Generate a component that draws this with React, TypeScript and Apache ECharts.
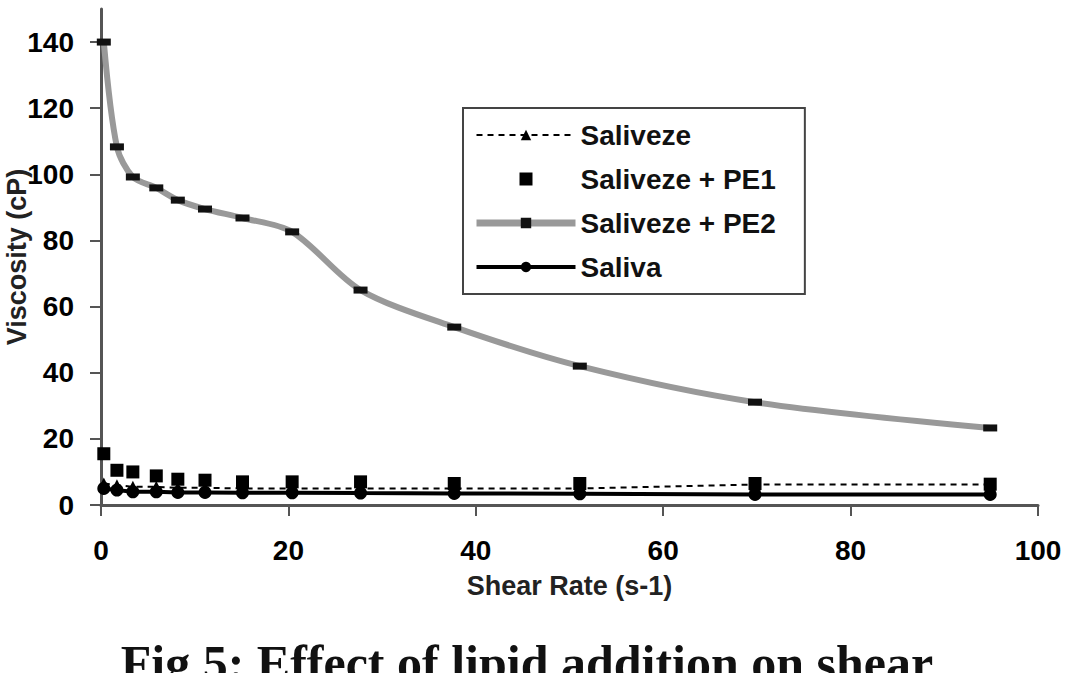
import React, { useEffect, useRef } from "react";
import * as echarts from "echarts";

const shearRate = [0.3, 1.7, 3.4, 5.9, 8.2, 11.1, 15.1, 20.4, 27.7, 37.7, 51.1, 69.8, 94.9];
const saliveze = [6.5, 6, 5.5, 5.5, 5.2, 5.2, 5, 5, 5, 5, 5, 6.2, 6.2];
const salivezePE1 = [15.5, 10.5, 10, 8.8, 7.8, 7.5, 7, 7, 7, 6.5, 6.5, 6.5, 6.3];
const salivezePE2 = [140, 108.3, 99.2, 95.9, 92.2, 89.5, 86.8, 82.6, 65, 53.8, 42, 31.1, 23.3];
const saliva = [5, 4.5, 4, 4, 3.8, 3.8, 3.7, 3.7, 3.6, 3.5, 3.4, 3.2, 3.2];
const yTicks = [0, 20, 40, 60, 80, 100, 120, 140];
const seriesNames = ["Saliveze", "Saliveze + PE1", "Saliveze + PE2", "Saliva"];
const captionText = "Fig 5: Effect of lipid addition on shear";

const pairs = (ys: number[]) => shearRate.map((x, i) => [x, ys[i]]);

export default function App() {
  const ref = useRef<HTMLDivElement>(null);
  useEffect(() => {
    const chart = echarts.init(ref.current!, null, { renderer: "svg" });
    const font = "'Liberation Sans', Arial, sans-serif";
    chart.setOption({
      animation: false,
      backgroundColor: "#fff",
      grid: { left: 101, right: 42, top: 9, bottom: 168, containLabel: false, outerBoundsMode: "none" },
      xAxis: {
        type: "value",
        min: 0,
        max: 100,
        interval: 20,
        name: "Shear Rate (s-1)",
        nameLocation: "middle",
        nameGap: 67,
        nameMoveOverlap: false,
        nameTextStyle: { fontFamily: font, fontSize: 27, color: "#222", fontWeight: "bold" },
        axisLine: { lineStyle: { color: "#555", width: 3 } },
        axisTick: { show: true, length: 11, lineStyle: { color: "#555", width: 2 } },
        axisLabel: { fontFamily: font, fontSize: 28, fontWeight: "bold", color: "#000", margin: 31 },
        splitLine: { show: false },
      },
      yAxis: {
        type: "value",
        min: 0,
        max: 150,
        name: "Viscosity (cP)",
        nameLocation: "middle",
        nameGap: 71,
        nameMoveOverlap: false,
        nameTextStyle: { fontFamily: font, fontSize: 27, color: "#222", fontWeight: "bold" },
        axisLine: { show: true, lineStyle: { color: "#555", width: 3 } },
        axisTick: { show: true, length: 11, customValues: yTicks, lineStyle: { color: "#555", width: 2 } },
        axisLabel: { fontFamily: font, fontSize: 28, fontWeight: "bold", color: "#000", margin: 27, customValues: yTicks },
        splitLine: { show: false },
      },
      legend: {
        orient: "vertical",
        left: 463,
        top: 108,
        data: [
          { name: seriesNames[0], lineStyle: { width: 2, type: [6, 5], color: "#000" } },
          { name: seriesNames[1], icon: "path://M0,0H10V10H0Z", itemStyle: { color: "#000", opacity: 1 } },
          { name: seriesNames[2], lineStyle: { width: 7, color: "#999" } },
          { name: seriesNames[3], lineStyle: { width: 4, color: "#000" } },
        ],
        itemWidth: 99,
        itemHeight: 13,
        itemGap: 16,
        padding: [13, 29, 13, 10],
        borderColor: "#444",
        borderWidth: 2,
        textStyle: { fontFamily: font, fontSize: 28, fontWeight: "bold", color: "#111" },
      },
      series: [
        {
          name: seriesNames[0],
          type: "line",
          data: pairs(saliveze),
          symbol: "triangle",
          symbolSize: 12,
          itemStyle: { color: "#000" },
          lineStyle: { color: "#000", width: 2, type: [6, 5] },
          z: 3,
        },
        {
          name: seriesNames[1],
          type: "scatter",
          data: pairs(salivezePE1),
          symbol: "rect",
          symbolSize: 13,
          itemStyle: { color: "#000", opacity: 1 },
          z: 4,
        },
        {
          name: seriesNames[2],
          type: "line",
          data: pairs(salivezePE2),
          smooth: 0.3,
          symbol: "rect",
          symbolSize: [14, 7],
          showAllSymbol: true,
          itemStyle: { color: "#111" },
          lineStyle: { color: "#999", width: 6 },
          z: 2,
        },
        {
          name: seriesNames[3],
          type: "line",
          data: pairs(saliva),
          symbol: "circle",
          symbolSize: 13,
          itemStyle: { color: "#000" },
          lineStyle: { color: "#000", width: 4 },
          z: 3,
        },
      ],
      graphic: [
        {
          type: "text",
          x: 527,
          y: 663,
          style: {
            text: captionText,
            textAlign: "center",
            textVerticalAlign: "middle",
            fontFamily: "'Liberation Serif', 'Times New Roman', serif",
            fontSize: 50,
            fontWeight: "bold",
            fill: "#111",
          },
        },
      ],
    });
    return () => chart.dispose();
  }, []);
  return (
    <div
      ref={ref}
      style={{ position: "fixed", left: 0, top: 0, width: 1080, height: 673, background: "#fff" }}
    />
  );
}
